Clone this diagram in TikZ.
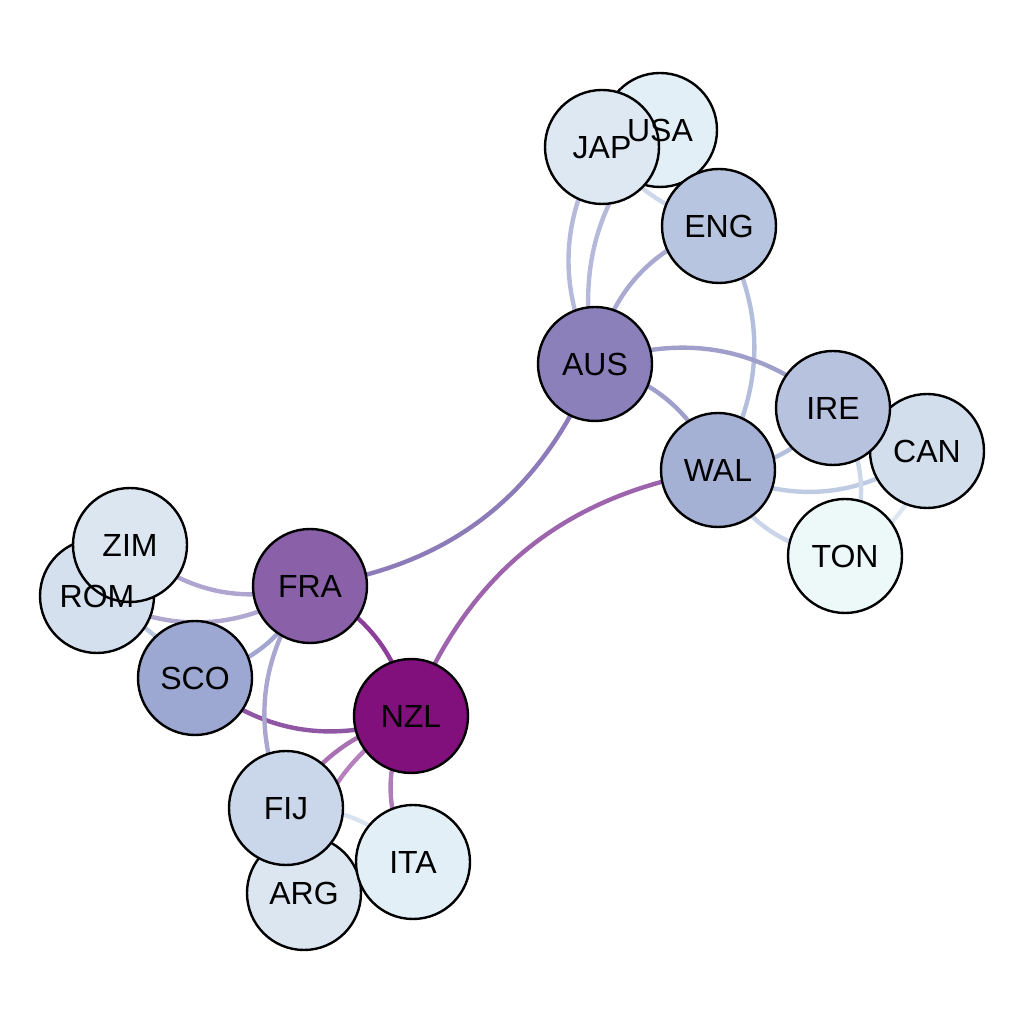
\documentclass[tikz,border=0pt]{standalone}
\usepackage{fontspec}
\setmainfont{Liberation Sans}
\pgfdeclarelayer{edges}
\pgfsetlayers{edges,main}
\definecolor{cUSA}{HTML}{E3EFF6}
\definecolor{cJAP}{HTML}{DEE8F2}
\definecolor{cENG}{HTML}{B7C5E0}
\definecolor{cAUS}{HTML}{8C80BA}
\definecolor{cIRE}{HTML}{B7C2DF}
\definecolor{cCAN}{HTML}{D3DEEC}
\definecolor{cWAL}{HTML}{A5B0D5}
\definecolor{cTON}{HTML}{EDF8F9}
\definecolor{cZIM}{HTML}{DCE6F1}
\definecolor{cROM}{HTML}{D5E0EE}
\definecolor{cFRA}{HTML}{8A60A8}
\definecolor{cSCO}{HTML}{9DA8D2}
\definecolor{cNZL}{HTML}{810F7C}
\definecolor{cFIJ}{HTML}{CAD7EA}
\definecolor{cITA}{HTML}{E3EFF6}
\definecolor{cARG}{HTML}{DCE6F1}
\begin{document}
\begin{tikzpicture}[x=1pt,y=1pt,
  team/.style={circle, draw=black, line width=2.4pt, minimum size=114pt, inner sep=0pt},
  lab/.style={font=\fontsize{32}{32}\selectfont, inner sep=0pt, text height=23pt, text depth=0pt},
  link/.style={line width=4.4pt}]
\useasboundingbox (0,0) rectangle (1024,1024);
% circles
\node[team, fill=cUSA] (USA) at (660,894) {};
\node[team, fill=cJAP] (JAP) at (602,877) {};
\node[team, fill=cENG] (ENG) at (719,798) {};
\node[team, fill=cAUS] (AUS) at (595,660) {};
\node[team, fill=cCAN] (CAN) at (927,573) {};
\node[team, fill=cIRE] (IRE) at (833,616) {};
\node[team, fill=cWAL] (WAL) at (718,554) {};
\node[team, fill=cTON] (TON) at (845,468) {};
\node[team, fill=cROM] (ROM) at (97,428) {};
\node[team, fill=cZIM] (ZIM) at (130,479) {};
\node[team, fill=cFRA] (FRA) at (310,438) {};
\node[team, fill=cSCO] (SCO) at (195,346) {};
\node[team, fill=cNZL] (NZL) at (411,308) {};
\node[team, fill=cARG] (ARG) at (304,131) {};
\node[team, fill=cFIJ] (FIJ) at (286,216) {};
\node[team, fill=cITA] (ITA) at (413,162) {};
% labels
\node[lab] (lUSA) at (USA) {USA};
\node[lab] (lJAP) at (JAP) {JAP};
\node[lab] (lENG) at (ENG) {ENG};
\node[lab] (lAUS) at (AUS) {AUS};
\node[lab] (lCAN) at (CAN) {CAN};
\node[lab] (lIRE) at (IRE) {IRE};
\node[lab] (lWAL) at (WAL) {WAL};
\node[lab] (lTON) at (TON) {TON};
\node[lab] (lROM) at (ROM) {ROM};
\node[lab] (lZIM) at (ZIM) {ZIM};
\node[lab] (lFRA) at (FRA) {FRA};
\node[lab] (lSCO) at (SCO) {SCO};
\node[lab] (lNZL) at (NZL) {NZL};
\node[lab] (lARG) at (ARG) {ARG};
\node[lab] (lFIJ) at (FIJ) {FIJ};
\node[lab] (lITA) at (ITA) {ITA};
% edges (centre to centre, covered by the circles)
\begin{pgfonlayer}{edges}
\draw[link, color={rgb,255:red,182;green,185;blue,218}] (USA.center) to[bend right=27] (AUS.center);
\draw[link, color={rgb,255:red,182;green,185;blue,218}] (JAP.center) to[bend right=28] (AUS.center);
\draw[link, color={rgb,255:red,205;green,216;blue,234}] (JAP.center) to[bend right=17] (ENG.center);
\draw[link, color={rgb,255:red,169;green,169;blue,210}] (AUS.center) to[bend left=30] (ENG.center);
\draw[link, color={rgb,255:red,179;green,190;blue,220}] (ENG.center) to[bend left=30] (WAL.center);
\draw[link, color={rgb,255:red,160;green,159;blue,203}] (AUS.center) to[bend left=30] (IRE.center);
\draw[link, color={rgb,255:red,160;green,159;blue,203}] (AUS.center) to[bend left=25] (WAL.center);
\draw[link, color={rgb,255:red,140;green,123;blue,184}] (AUS.center) to[bend left=30] (FRA.center);
\draw[link, color={rgb,255:red,157;green,100;blue,173}] (WAL.center) to[bend right=30] (NZL.center);
\draw[link, color={rgb,255:red,179;green,191;blue,221}] (WAL.center) to[bend right=25] (IRE.center);
\draw[link, color={rgb,255:red,191;green,202;blue,227}] (WAL.center) to[bend right=30] (CAN.center);
\draw[link, color={rgb,255:red,204;green,216;blue,234}] (IRE.center) to[bend left=30] (TON.center);
\draw[link, color={rgb,255:red,202;green,213;blue,233}] (WAL.center) to[bend right=28] (TON.center);
\draw[link, color={rgb,255:red,221;green,232;blue,242}] (CAN.center) to[bend left=25] (TON.center);
\draw[link, color={rgb,255:red,175;green,165;blue,208}] (ZIM.center) to[bend right=28] (FRA.center);
\draw[link, color={rgb,255:red,177;green,168;blue,209}] (ROM.center) to[bend right=30] (FRA.center);
\draw[link, color={rgb,255:red,186;green,200;blue,225}] (ROM.center) to[bend left=10] (SCO.center);
\draw[link, color={rgb,255:red,163;green,166;blue,208}] (SCO.center) to[bend right=25] (FRA.center);
\draw[link, color={rgb,255:red,141;green,62;blue,155}] (FRA.center) to[bend left=25] (NZL.center);
\draw[link, color={rgb,255:red,143;green,86;blue,164}] (SCO.center) to[bend right=30] (NZL.center);
\draw[link, color={rgb,255:red,171;green,166;blue,208}] (FRA.center) to[bend right=30] (FIJ.center);
\draw[link, color={rgb,255:red,168;green,111;blue,178}] (NZL.center) to[bend right=20] (FIJ.center);
\draw[link, color={rgb,255:red,181;green,128;blue,189}] (NZL.center) to[bend right=28] (ARG.center);
\draw[link, color={rgb,255:red,176;green,124;blue,186}] (NZL.center) to[bend right=30] (ITA.center);
\draw[link, color={rgb,255:red,217;green,228;blue,240}] (FIJ.center) to[bend left=25] (ITA.center);
\end{pgfonlayer}
\end{tikzpicture}
\end{document}
